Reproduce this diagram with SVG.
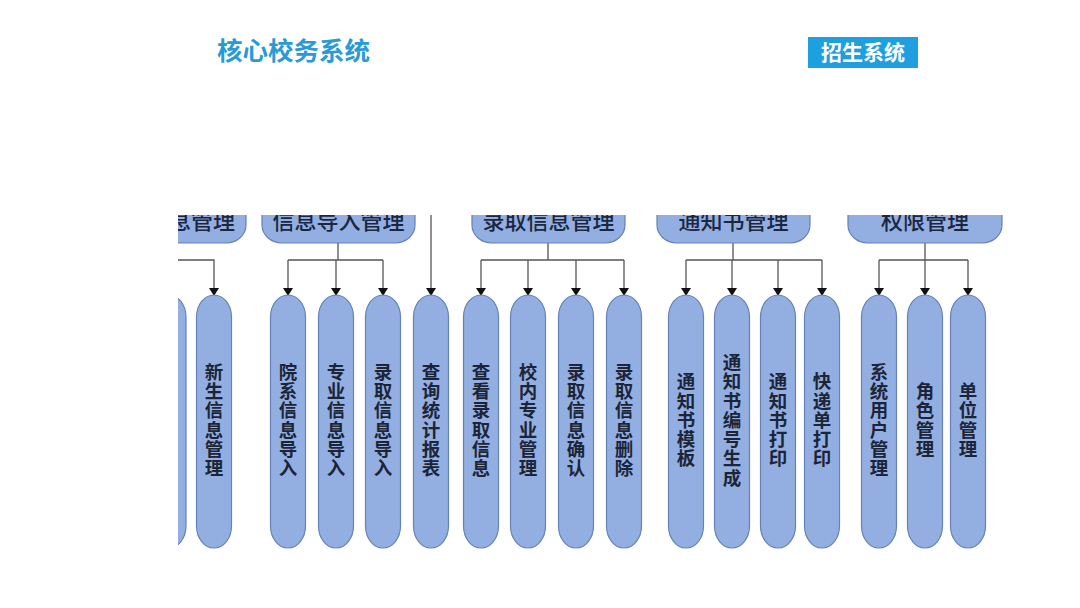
<svg xmlns="http://www.w3.org/2000/svg" width="1080" height="608" viewBox="0 0 1080 608">
<defs>
<style>
.title{font-family:"Noto Sans CJK SC","Noto Sans",sans-serif;font-weight:bold}
.hdr{fill:#93afe2;stroke:#6482b8;stroke-width:1.2}
.hdrt{font-family:"Noto Sans CJK SC","Noto Sans",sans-serif;font-size:22px;font-weight:500;fill:#1b2740;text-anchor:middle}
.pill{fill:#93afe2;stroke:#6482b8;stroke-width:1.2}
.vt{font-family:"Noto Sans CJK SC","Noto Sans",sans-serif;font-size:18.5px;font-weight:bold;fill:#1c2538;text-anchor:middle}
.ln{fill:none;stroke:#555;stroke-width:1.3}
.arr{fill:none;stroke:#555;stroke-width:1.3;marker-end:url(#ah)}
</style>
<marker id="ah" viewBox="0 0 8 10" refX="8" refY="5" markerWidth="8" markerHeight="10" markerUnits="userSpaceOnUse" orient="auto">
<path d="M0,0 L8,5 L0,10 z" fill="#111"/>
</marker>
<clipPath id="cut"><rect x="178" y="215" width="902" height="393"/></clipPath>
</defs>
<rect width="1080" height="608" fill="#fff"/>

<g id="title-core"><text class="title" x="217" y="60" font-size="25.5" fill="#2a9ad4">核心校务系统</text></g>
<g id="title-admission">
<rect x="808" y="37" width="110" height="31" fill="#1e9fe0"/>
<text class="title" x="863" y="60" font-size="21" fill="#fff" text-anchor="middle">招生系统</text>
</g>

<g clip-path="url(#cut)">
<g id="connectors">
<path class="arr" d="M178,260 H214 V296"/>
<path class="ln" d="M338,243 V260 M288,260 H383"/>
<path class="arr" d="M288,260 V296"/>
<path class="arr" d="M336,260 V296"/>
<path class="arr" d="M383,260 V296"/>
<path class="arr" d="M431,215 V296"/>
<path class="ln" d="M548,243 V260 M481,260 H624"/>
<path class="arr" d="M481,260 V296"/>
<path class="arr" d="M528,260 V296"/>
<path class="arr" d="M576,260 V296"/>
<path class="arr" d="M624,260 V296"/>
<path class="ln" d="M733,243 V260 M686,260 H822"/>
<path class="arr" d="M686,260 V296"/>
<path class="arr" d="M732,260 V296"/>
<path class="arr" d="M778,260 V296"/>
<path class="arr" d="M822,260 V296"/>
<path class="ln" d="M925,243 V260 M879,260 H968"/>
<path class="arr" d="M879,260 V296"/>
<path class="arr" d="M925,260 V296"/>
<path class="arr" d="M968,260 V296"/>
</g>

<g id="hdr-1"><rect class="hdr" x="100" y="195" width="146" height="48" rx="20" ry="18"/><text class="hdrt" x="235" y="229" style="text-anchor:end">息管理</text></g>
<g id="hdr-import"><rect class="hdr" x="262" y="195" width="153" height="48" rx="20" ry="18"/><text class="hdrt" x="338.5" y="229">信息导入管理</text></g>
<g id="hdr-admit"><rect class="hdr" x="472" y="195" width="153" height="48" rx="20" ry="18"/><text class="hdrt" x="548.5" y="229">录取信息管理</text></g>
<g id="hdr-notice"><rect class="hdr" x="657" y="195" width="153" height="48" rx="20" ry="18"/><text class="hdrt" x="733.5" y="229">通知书管理</text></g>
<g id="hdr-perm"><rect class="hdr" x="848" y="195" width="154" height="48" rx="20" ry="18"/><text class="hdrt" x="925" y="229">权限管理</text></g>

<g id="n-partial"><rect class="pill" x="151" y="295" width="35" height="253" rx="17.5" ry="22"/></g>
<g id="n-xinsheng"><rect class="pill" x="196.5" y="295" width="35" height="253" rx="17.5" ry="22"/><text class="vt" x="214 214 214 214 214 214" y="378.6 397.9 417.2 436.5 455.8 475.1">新生信息管理</text></g>
</g>

<g id="n-yuanxi"><rect class="pill" x="270.5" y="295" width="35" height="253" rx="17.5" ry="22"/><text class="vt" x="288 288 288 288 288 288" y="378.6 397.9 417.2 436.5 455.8 475.1">院系信息导入</text></g>
<g id="n-zhuanye"><rect class="pill" x="318.5" y="295" width="35" height="253" rx="17.5" ry="22"/><text class="vt" x="336 336 336 336 336 336" y="378.6 397.9 417.2 436.5 455.8 475.1">专业信息导入</text></g>
<g id="n-luqu-import"><rect class="pill" x="365.5" y="295" width="35" height="253" rx="17.5" ry="22"/><text class="vt" x="383 383 383 383 383 383" y="378.6 397.9 417.2 436.5 455.8 475.1">录取信息导入</text></g>
<g id="n-query"><rect class="pill" x="413.5" y="295" width="35" height="253" rx="17.5" ry="22"/><text class="vt" x="431 431 431 431 431 431" y="378.6 397.9 417.2 436.5 455.8 475.1">查询统计报表</text></g>
<g id="n-view"><rect class="pill" x="463.5" y="295" width="35" height="253" rx="17.5" ry="22"/><text class="vt" x="481 481 481 481 481 481" y="378.6 397.9 417.2 436.5 455.8 475.1">查看录取信息</text></g>
<g id="n-major"><rect class="pill" x="510.5" y="295" width="35" height="253" rx="17.5" ry="22"/><text class="vt" x="528 528 528 528 528 528" y="378.6 397.9 417.2 436.5 455.8 475.1">校内专业管理</text></g>
<g id="n-confirm"><rect class="pill" x="558.5" y="295" width="35" height="253" rx="17.5" ry="22"/><text class="vt" x="576 576 576 576 576 576" y="378.6 397.9 417.2 436.5 455.8 475.1">录取信息确认</text></g>
<g id="n-delete"><rect class="pill" x="606.5" y="295" width="35" height="253" rx="17.5" ry="22"/><text class="vt" x="624 624 624 624 624 624" y="378.6 397.9 417.2 436.5 455.8 475.1">录取信息删除</text></g>
<g id="n-template"><rect class="pill" x="668.5" y="295" width="35" height="253" rx="17.5" ry="22"/><text class="vt" x="686 686 686 686 686" y="388.2 407.5 426.8 446.1 465.4">通知书模板</text></g>
<g id="n-number"><rect class="pill" x="714.5" y="295" width="35" height="253" rx="17.5" ry="22"/><text class="vt" x="732 732 732 732 732 732 732" y="368.9 388.2 407.5 426.8 446.1 465.4 484.7">通知书编号生成</text></g>
<g id="n-print"><rect class="pill" x="760.5" y="295" width="35" height="253" rx="17.5" ry="22"/><text class="vt" x="778 778 778 778 778" y="388.2 407.5 426.8 446.1 465.4">通知书打印</text></g>
<g id="n-express"><rect class="pill" x="804.5" y="295" width="35" height="253" rx="17.5" ry="22"/><text class="vt" x="822 822 822 822 822" y="388.2 407.5 426.8 446.1 465.4">快递单打印</text></g>
<g id="n-user"><rect class="pill" x="861.5" y="295" width="35" height="253" rx="17.5" ry="22"/><text class="vt" x="879 879 879 879 879 879" y="378.6 397.9 417.2 436.5 455.8 475.1">系统用户管理</text></g>
<g id="n-role"><rect class="pill" x="907.5" y="295" width="35" height="253" rx="17.5" ry="22"/><text class="vt" x="925 925 925 925" y="397.9 417.2 436.5 455.8">角色管理</text></g>
<g id="n-unit"><rect class="pill" x="950.5" y="295" width="35" height="253" rx="17.5" ry="22"/><text class="vt" x="968 968 968 968" y="397.9 417.2 436.5 455.8">单位管理</text></g>
</svg>
